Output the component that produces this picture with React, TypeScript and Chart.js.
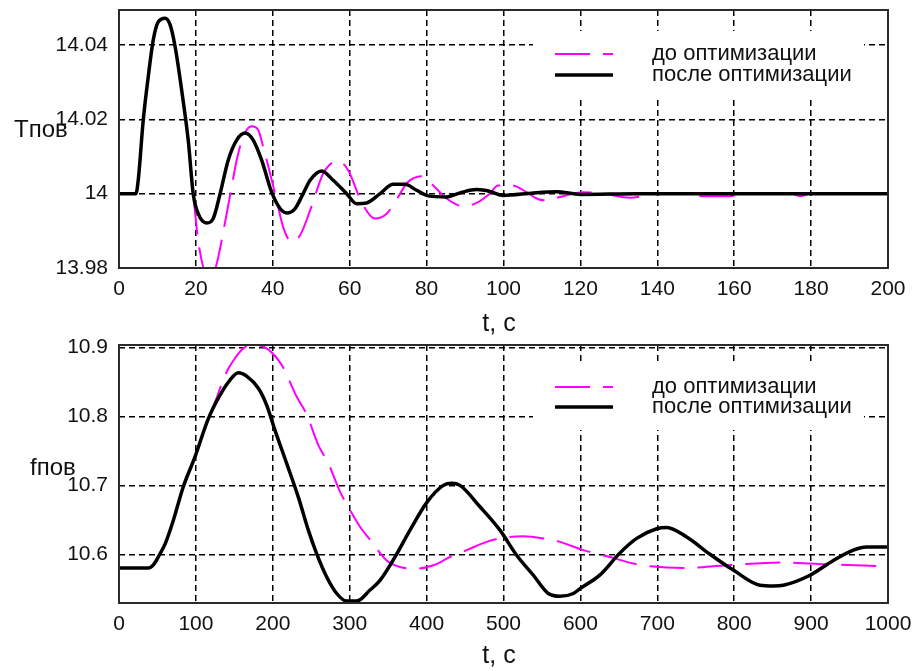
import React, { useEffect, useRef } from 'react';
import { Chart, registerables } from 'chart.js';

Chart.register(...registerables);

const FONT = '"Liberation Sans", Arial, Helvetica, sans-serif';

// ---------- shared text ----------
const legendLabels = ['до оптимизации', 'после оптимизации'];
const xAxisTitle = 't, с';
const tempAxisTitle = 'Tпов';
const freqAxisTitle = 'fпов';

// ---------- top chart: Tпов(t) ----------
const tempXTicks = [0, 20, 40, 60, 80, 100, 120, 140, 160, 180, 200];
const tempYTicks = [13.98, 14, 14.02, 14.04];
const tempYTickLabels = ['13.98', '14', '14.02', '14.04'];
const tempYMin = 13.98;
const tempYMax = 14.0494;

const tempTimeAfter = [0, 4.4, 5.0, 6.3, 7.6, 8.9, 10.2, 12.0, 13.3, 14.6, 16.3, 18.0, 19.3, 20.6, 22.8, 24.5, 26.3, 28.4, 30.6, 32.8, 34.9, 37.1, 39.7, 41.9, 43.6, 45.8, 47.9, 49.7, 52.7, 55.7, 59.2, 61.8, 64.4, 67.9, 71.3, 74.4, 77.4, 80.4, 85.2, 88.7, 93.0, 96.5, 99.9, 107.8, 113.8, 120, 135, 150, 200];
const tempAfter = [14, 14, 14.0036, 14.0197, 14.0314, 14.0413, 14.0462, 14.0472, 14.0454, 14.0395, 14.0278, 14.0144, 14.0, 13.9946, 13.9921, 13.9933, 14.0, 14.009, 14.0144, 14.0163, 14.0144, 14.009, 14.0004, 13.996, 13.9948, 13.996, 14.0, 14.0036, 14.0061, 14.0036, 14.0, 13.9973, 13.9975, 14.0, 14.0025, 14.0025, 14.0009, 13.9994, 13.9991, 14.0002, 14.0011, 14.0006, 13.9995, 14.0002, 14.0005, 13.9998, 14.0, 14.0, 14.0];

const tempTimeBefore = [0, 4.4, 5.0, 6.3, 7.6, 8.9, 10.2, 12.0, 13.3, 14.6, 16.3, 18.0, 19.3, 20.6, 21.9, 23.5, 25.4, 26.7, 28.0, 29.3, 30.6, 32.3, 34.5, 36.2, 37.5, 39.3, 41.0, 42.7, 44.9, 47.1, 49.7, 51.0, 53.1, 55.7, 57.0, 59.6, 63.1, 66.6, 69.6, 72.6, 75.0, 78.7, 81.7, 85.2, 89.6, 93.0, 96.4, 98.6, 102.1, 106.0, 108.6, 110.8, 114.7, 120.7, 126, 132.9, 137, 140.7, 146.7, 151.9, 158.9, 161.5, 175, 177.1, 179.7, 200];
const tempBefore = [14, 14, 14.0036, 14.0197, 14.0314, 14.0413, 14.0462, 14.0472, 14.0454, 14.0395, 14.0278, 14.0144, 14.0, 13.9874, 13.9802, 13.976, 13.9811, 13.9874, 13.9946, 14.0018, 14.009, 14.0153, 14.0181, 14.0171, 14.0126, 14.0054, 13.9982, 13.991, 13.987, 13.9888, 13.9955, 13.9995, 14.0054, 14.0085, 14.0088, 14.0063, 13.9977, 13.9933, 13.9946, 13.9991, 14.003, 14.0047, 14.0022, 13.9987, 13.9966, 13.9975, 14.0, 14.0022, 14.0022, 14.0004, 13.9987, 13.9982, 13.9991, 14.0004, 14.0, 13.9989, 13.9995, 14.0002, 14.0002, 13.9993, 13.9993, 14.0, 14.0, 13.9993, 14.0, 14.0];

// ---------- bottom chart: fпов(t) ----------
const freqXTicks = [0, 100, 200, 300, 400, 500, 600, 700, 800, 900, 1000];
const freqYTicks = [10.6, 10.7, 10.8, 10.9];
const freqYTickLabels = ['10.6', '10.7', '10.8', '10.9'];
const freqYMin = 10.5292;
const freqYMax = 10.9039;

const freqTimeAfter = [0, 38, 45, 53, 60, 70.6, 83.6, 98.8, 116.2, 131.3, 144.3, 155.2, 166, 181.2, 192, 202.9, 218, 233.2, 246.2, 257, 270.1, 283.1, 296.1, 309.1, 326.4, 339.4, 361, 378.4, 400.1, 421.7, 432.6, 443.4, 469.4, 495.4, 517.1, 538.8, 558.3, 573.5, 590.8, 599.5, 625.5, 651.5, 673.2, 699.2, 712.2, 738.2, 768.5, 798.8, 833.5, 850.9, 863.8, 898.6, 928.9, 954.9, 972.3, 1000];
const freqAfter = [10.58, 10.58, 10.585, 10.6, 10.615, 10.649, 10.698, 10.7415, 10.797, 10.831, 10.853, 10.8636, 10.8588, 10.841, 10.8167, 10.78, 10.732, 10.683, 10.635, 10.601, 10.567, 10.543, 10.532, 10.532, 10.548, 10.562, 10.6, 10.635, 10.675, 10.7, 10.703, 10.7, 10.669, 10.635, 10.5985, 10.5695, 10.543, 10.539, 10.543, 10.55, 10.57, 10.602, 10.623, 10.637, 10.639, 10.625, 10.6, 10.577, 10.555, 10.554, 10.555, 10.5695, 10.591, 10.606, 10.6106, 10.6106];

const freqTimeBefore = [0, 38, 45, 53, 60, 70.6, 83.6, 98.8, 110, 122.6, 140, 150.8, 161.6, 174.6, 192, 211.5, 231, 244, 259.2, 272.2, 287.4, 300.4, 313.4, 328.6, 348.1, 365.4, 387.1, 408.7, 430.4, 452.1, 478.1, 499.7, 525.7, 551.8, 573.5, 603.8, 638.5, 668.8, 690.5, 733.8, 790.2, 863.8, 928.9, 1000];
const freqBefore = [10.58, 10.58, 10.585, 10.6, 10.615, 10.649, 10.698, 10.7415, 10.778, 10.814, 10.865, 10.8846, 10.899, 10.904, 10.899, 10.875, 10.829, 10.803, 10.7585, 10.732, 10.691, 10.664, 10.64, 10.618, 10.591, 10.5815, 10.579, 10.584, 10.596, 10.606, 10.618, 10.624, 10.626, 10.623, 10.618, 10.606, 10.596, 10.5865, 10.5826, 10.58, 10.584, 10.588, 10.585, 10.5826];

// ---------- helpers ----------
const zip = (xs: number[], ys: number[]) => xs.map((x, i) => ({ x, y: ys[i] }));

type PanelOpts = {
  yTitle: string;
  yTitleX: number;
  yTitleBaseline: number;
  xTitleCenter: number;
  xTitleBaseline: number;
  padTop: number;
  xAxisHeight: number;
  boxTop: number;
  boxBottom: number;
  row1: number;
  rowGap: number;
};

function makeOverlay(o: PanelOpts) {
  return {
    id: 'panelOverlay',
    beforeDatasetsDraw(chart: any) {
      const { ctx, chartArea: a } = chart;
      ctx.save();
      ctx.fillStyle = '#ffffff';
      ctx.fillRect(a.left + 414, a.top + o.boxTop, a.right - 24 - (a.left + 414), o.boxBottom - o.boxTop);
      ctx.restore();
    },
    afterDraw(chart: any) {
      const { ctx, chartArea: a } = chart;
      ctx.save();
      // plot frame
      ctx.strokeStyle = '#2a2a2a';
      ctx.lineWidth = 2;
      ctx.setLineDash([]);
      ctx.strokeRect(a.left, a.top, a.right - a.left, a.bottom - a.top);

      // legend
      const lx0 = a.left + 436;
      const lx1 = a.left + 494;
      const tx = a.left + 533;
      const y1 = a.top + o.row1;
      const y2 = y1 + o.rowGap;
      ctx.lineCap = 'butt';
      ctx.strokeStyle = '#ff00ff';
      ctx.lineWidth = 2;
      ctx.setLineDash([35, 13]);
      ctx.beginPath();
      ctx.moveTo(lx0, y1);
      ctx.lineTo(lx1, y1);
      ctx.stroke();
      ctx.strokeStyle = '#000000';
      ctx.lineWidth = 3.5;
      ctx.setLineDash([]);
      ctx.beginPath();
      ctx.moveTo(lx0, y2);
      ctx.lineTo(lx1, y2);
      ctx.stroke();
      ctx.fillStyle = '#111111';
      ctx.font = `22px ${FONT}`;
      ctx.textAlign = 'left';
      ctx.textBaseline = 'middle';
      ctx.fillText(legendLabels[0], tx, y1);
      ctx.fillText(legendLabels[1], tx, y2);

      // axis titles
      ctx.textBaseline = 'alphabetic';
      ctx.font = `24px ${FONT}`;
      ctx.fillText(o.yTitle, o.yTitleX, o.yTitleBaseline);
      ctx.font = `25px ${FONT}`;
      ctx.textAlign = 'center';
      ctx.fillText(xAxisTitle, o.xTitleCenter, o.xTitleBaseline);
      ctx.restore();
    },
  };
}

function makeConfig(p: {
  tBefore: number[]; yBefore: number[]; tAfter: number[]; yAfter: number[];
  xTicks: number[]; yTicks: number[]; yTickLabels: string[]; yMin: number; yMax: number;
  panel: PanelOpts;
}): any {
  const tickFont = { family: FONT, size: 21 };
  return {
    type: 'line',
    data: {
      datasets: [
        {
          label: legendLabels[0],
          data: zip(p.tBefore, p.yBefore),
          borderColor: '#ff00ff',
          borderWidth: 2,
          borderDash: [35, 13],
          pointRadius: 0,
          fill: false,
          cubicInterpolationMode: 'monotone',
          order: 2,
        },
        {
          label: legendLabels[1],
          data: zip(p.tAfter, p.yAfter),
          borderColor: '#000000',
          borderWidth: 3.5,
          pointRadius: 0,
          fill: false,
          cubicInterpolationMode: 'monotone',
          order: 1,
        },
      ],
    },
    options: {
      responsive: false,
      animation: false,
      devicePixelRatio: 1,
      events: [],
      layout: { autoPadding: false, padding: { left: 0, right: 24, top: p.panel.padTop, bottom: 0 } },
      plugins: { legend: { display: false }, tooltip: { enabled: false } },
      scales: {
        x: {
          type: 'linear',
          min: p.xTicks[0],
          max: p.xTicks[p.xTicks.length - 1],
          bounds: 'data',
          afterBuildTicks: (s: any) => { s.ticks = p.xTicks.map((v) => ({ value: v })); },
          afterFit: (s: any) => { s.height = p.panel.xAxisHeight; s.paddingLeft = 0; s.paddingRight = 0; },
          ticks: {
            callback: (_v: any, i: number) => String(p.xTicks[i]),
            font: tickFont,
            color: '#111111',
            padding: 9,
            maxRotation: 0,
            autoSkip: false,
          },
          grid: { color: '#000000', lineWidth: 1.5, drawTicks: false },
          border: { display: false, dash: [6, 4] },
        },
        y: {
          type: 'linear',
          min: p.yMin,
          max: p.yMax,
          bounds: 'data',
          afterBuildTicks: (s: any) => { s.ticks = p.yTicks.map((v) => ({ value: v })); },
          afterFit: (s: any) => { s.width = 119; s.paddingTop = 0; s.paddingBottom = 0; },
          ticks: {
            callback: (_v: any, i: number) => p.yTickLabels[i],
            font: tickFont,
            color: '#111111',
            padding: 11,
            autoSkip: false,
          },
          grid: { color: '#000000', lineWidth: 1.5, drawTicks: false },
          border: { display: false, dash: [6, 4] },
        },
      },
    },
    plugins: [makeOverlay(p.panel)],
  };
}

function Panel({ config, width, height }: { config: any; width: number; height: number }) {
  const ref = useRef<HTMLCanvasElement>(null);
  useEffect(() => {
    if (!ref.current) return;
    const chart = new Chart(ref.current, config);
    return () => chart.destroy();
  }, [config]);
  return <canvas ref={ref} width={width} height={height} style={{ display: 'block', width, height }} />;
}

const topConfig = makeConfig({
  tBefore: tempTimeBefore, yBefore: tempBefore, tAfter: tempTimeAfter, yAfter: tempAfter,
  xTicks: tempXTicks, yTicks: tempYTicks, yTickLabels: tempYTickLabels, yMin: tempYMin, yMax: tempYMax,
  panel: {
    yTitle: tempAxisTitle, yTitleX: 14, yTitleBaseline: 137,
    xTitleCenter: 499, xTitleBaseline: 331,
    padTop: 10, xAxisHeight: 68,
    boxTop: 21, boxBottom: 90, row1: 44, rowGap: 21,
  },
});

const bottomConfig = makeConfig({
  tBefore: freqTimeBefore, yBefore: freqBefore, tAfter: freqTimeAfter, yAfter: freqAfter,
  xTicks: freqXTicks, yTicks: freqYTicks, yTickLabels: freqYTickLabels, yMin: freqYMin, yMax: freqYMax,
  panel: {
    yTitle: freqAxisTitle, yTitleX: 30, yTitleBaseline: 139,
    xTitleCenter: 499, xTitleBaseline: 327,
    padTop: 9, xAxisHeight: 68,
    boxTop: 16, boxBottom: 85, row1: 42, rowGap: 20,
  },
});

export default function App() {
  return (
    <div style={{ position: 'absolute', left: 0, top: 0, width: 912, height: 671, background: '#ffffff' }}>
      <Panel config={topConfig} width={912} height={336} />
      <Panel config={bottomConfig} width={912} height={335} />
    </div>
  );
}
